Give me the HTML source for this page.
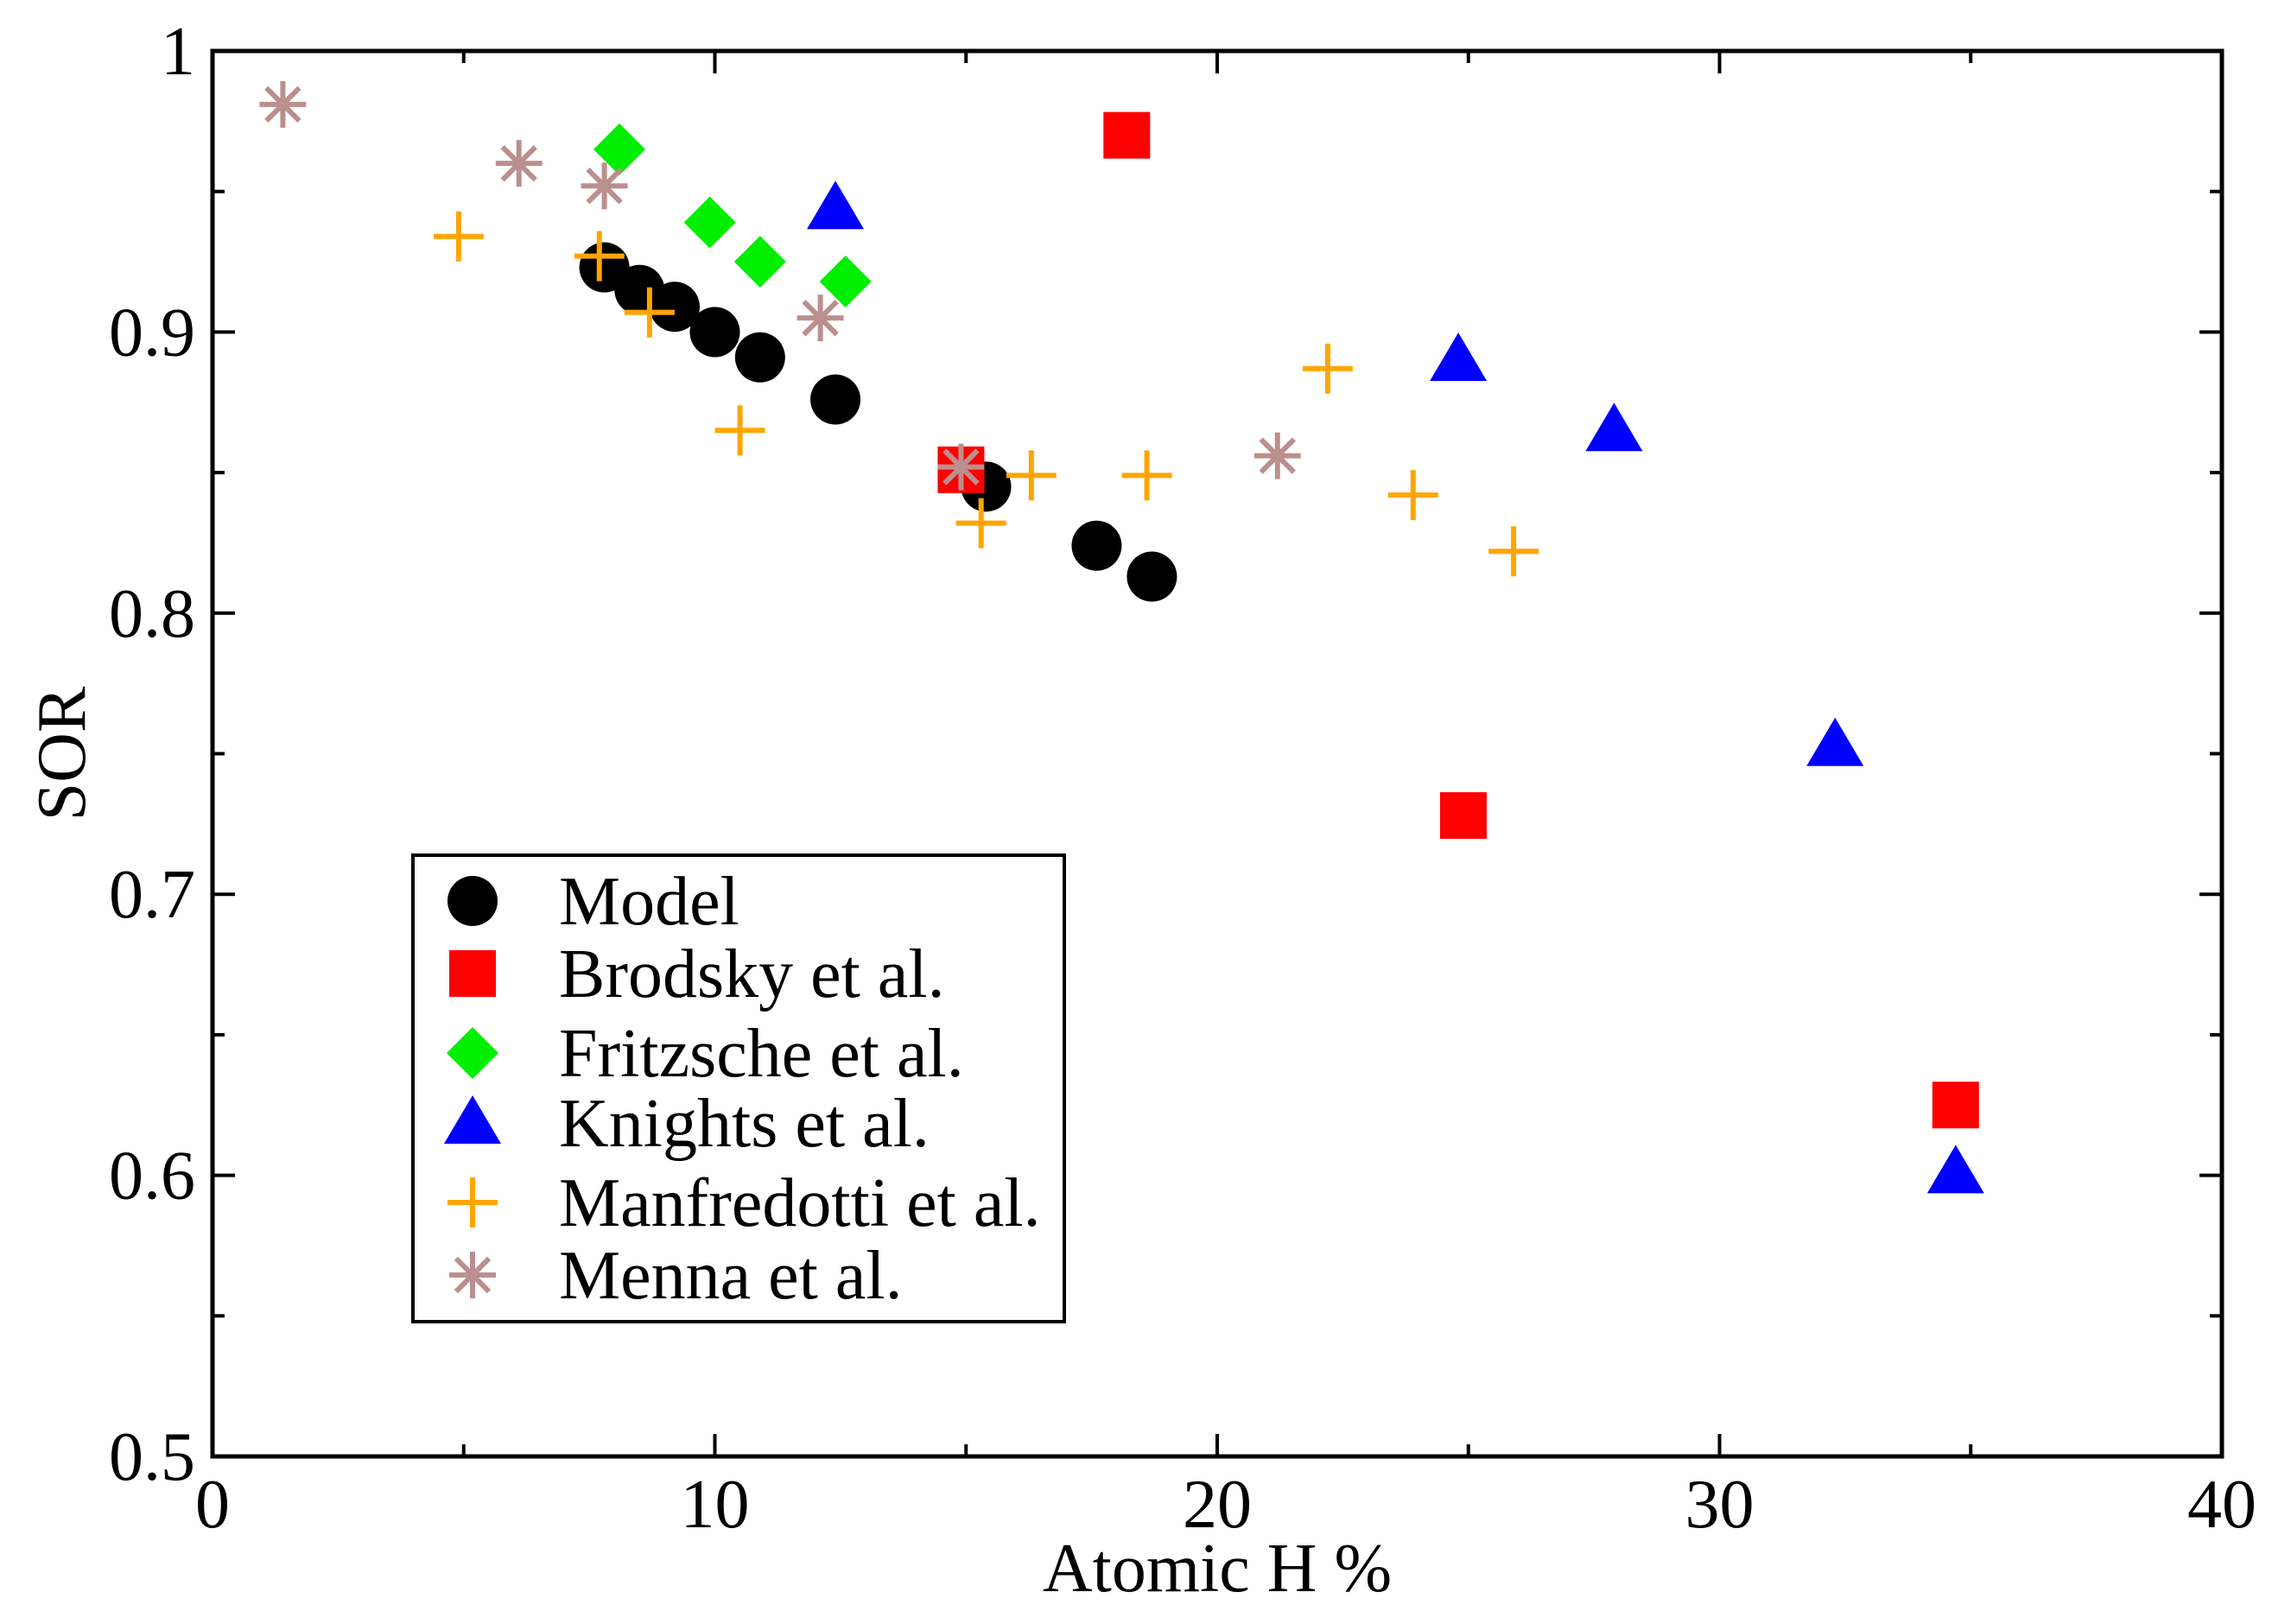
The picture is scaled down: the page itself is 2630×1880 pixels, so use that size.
<!DOCTYPE html>
<html><head><meta charset="utf-8"><style>
html,body{margin:0;padding:0;background:#fff;}
svg{display:block;font-family:"Liberation Serif",serif;}
</style></head><body>
<svg id="chart" width="2630" height="1880" viewBox="0 0 2630 1880" xmlns="http://www.w3.org/2000/svg">
<rect width="2630" height="1880" fill="#fff"/>
<g id="axes"></g>
<g id="marks"></g>
<g id="legend"></g>
</svg>
<script>
const xTicks=[0,10,20,30,40];
const yTicks=[0.5,0.6,0.7,0.8,0.9,1];
const yTickLabels=["0.5","0.6","0.7","0.8","0.9","1"];
const modelX=[7.8,8.5,9.2,10.0,10.9,12.4,15.4,17.6,18.7];
const modelY=[0.923,0.915,0.909,0.900,0.891,0.876,0.845,0.824,0.813];
const brodskyX=[18.2,14.9,24.9,34.7];
const brodskyY=[0.970,0.851,0.728,0.625];
const fritzscheX=[8.1,9.9,10.9,12.6];
const fritzscheY=[0.965,0.939,0.925,0.918];
const knightsX=[12.4,24.8,27.9,32.3,34.7];
const knightsY=[0.944,0.890,0.865,0.753,0.601];
const manfX=[4.9,7.7,8.7,10.5,15.3,16.3,18.6,22.2,23.9,25.9];
const manfY=[0.934,0.927,0.907,0.865,0.832,0.849,0.849,0.887,0.842,0.822];
const mennaX=[1.4,6.1,7.8,12.1,14.9,21.2];
const mennaY=[0.981,0.960,0.952,0.905,0.852,0.856];
const seriesNames=["Model","Brodsky et al.","Fritzsche et al.","Knights et al.","Manfredotti et al.","Menna et al."];

const L=246,R=2572,T=59,B=1686;
const sx=v=>L+(v-0)/(40-0)*(R-L);
const sy=v=>B-(v-0.5)/(1-0.5)*(B-T);
const NS="http://www.w3.org/2000/svg";
function mk(tag,attrs,parent){const e=document.createElementNS(NS,tag);for(const k in attrs)e.setAttribute(k,attrs[k]);parent.appendChild(e);return e;}
const axes=document.getElementById('axes'),marks=document.getElementById('marks'),leg=document.getElementById('legend');

const frame=mk('rect',{x:L,y:T,width:R-L,height:B-T,fill:'none',stroke:'#000','stroke-width':5},axes);


for(let v=0;v<=40;v+=5){
  const len=(v%10===0)?26:14;
  const x=sx(v);
  const t1=mk('line',{x1:x,y1:B,x2:x,y2:B-len,stroke:'#000','stroke-width':4},axes);
  
  
  const t2=mk('line',{x1:x,y1:T,x2:x,y2:T+len,stroke:'#000','stroke-width':4},axes);
  
  
}
xTicks.forEach(v=>{
  const t=mk('text',{x:sx(v),y:B+82,'font-size':80,'text-anchor':'middle'},axes);
  t.textContent=v;
  
  
});
for(let i=0;i<=10;i++){
  const v=0.5+i*0.05;const len=(i%2===0)?26:14;const y=sy(v);
  const t1=mk('line',{x1:L,y1:y,x2:L+len,y2:y,stroke:'#000','stroke-width':4},axes);
  
  
  const t2=mk('line',{x1:R,y1:y,x2:R-len,y2:y,stroke:'#000','stroke-width':4},axes);
  
  
}
yTicks.forEach((v,i)=>{
  const t=mk('text',{x:L-20,y:sy(v)+27,'font-size':80,'text-anchor':'end'},axes);
  t.textContent=yTickLabels[i];
  
  
});
const xt=mk('text',{x:(L+R)/2,y:1842,'font-size':80,'text-anchor':'middle'},axes);
xt.textContent='Atomic H %';


const yt=mk('text',{x:0,y:0,'font-size':80,'text-anchor':'middle',transform:`translate(98,${(T+B)/2}) rotate(-90)`},axes);
yt.textContent='SOR';



function marker(type,cx,cy,parent){
  const g=mk('g',{},parent);
  if(type===0){mk('circle',{cx:cx,cy:cy,r:29,fill:'#000'},g);}
  else if(type===1){mk('rect',{x:cx-27,y:cy-27,width:54,height:54,fill:'#ff0000'},g);}
  else if(type===2){mk('polygon',{points:`${cx},${cy-30} ${cx+30},${cy} ${cx},${cy+30} ${cx-30},${cy}`,fill:'#00ee00'},g);}
  else if(type===3){mk('polygon',{points:`${cx},${cy-32} ${cx+33},${cy+24} ${cx-33},${cy+24}`,fill:'#0000ff'},g);}
  else if(type===4){mk('path',{d:`M${cx-29},${cy}H${cx+29}M${cx},${cy-29}V${cy+29}`,stroke:'#ffa500','stroke-width':6,fill:'none'},g);}
  else {const r=27,d=r*0.707;mk('path',{d:`M${cx-r},${cy}H${cx+r}M${cx},${cy-r}V${cy+r}M${cx-d},${cy-d}L${cx+d},${cy+d}M${cx-d},${cy+d}L${cx+d},${cy-d}`,stroke:'#bc8f8f','stroke-width':6,fill:'none'},g);}
  return g;
}
const series=[[modelX,modelY,'model-point'],[brodskyX,brodskyY,'brodsky-point'],[fritzscheX,fritzscheY,'fritzsche-point'],[knightsX,knightsY,'knights-point'],[manfX,manfY,'manfredotti-point'],[mennaX,mennaY,'menna-point']];
series.forEach((s,si)=>{
  s[0].forEach((xv,i)=>{
    const g=marker(si,sx(xv),sy(s[1][i]),marks);
    
    
  });
});
const lb=mk('rect',{x:478,y:990,width:754,height:540,fill:'#fff',stroke:'#000','stroke-width':4},leg);


const ly=[1043,1127,1219,1300,1392,1476];
seriesNames.forEach((n,i)=>{
  const g=mk('g',{},leg);
  
  
  marker(i,547,ly[i],g);
  const t=mk('text',{x:647,y:ly[i]+27,'font-size':80},g);
  t.textContent=n;
});
</script>
</body></html>
